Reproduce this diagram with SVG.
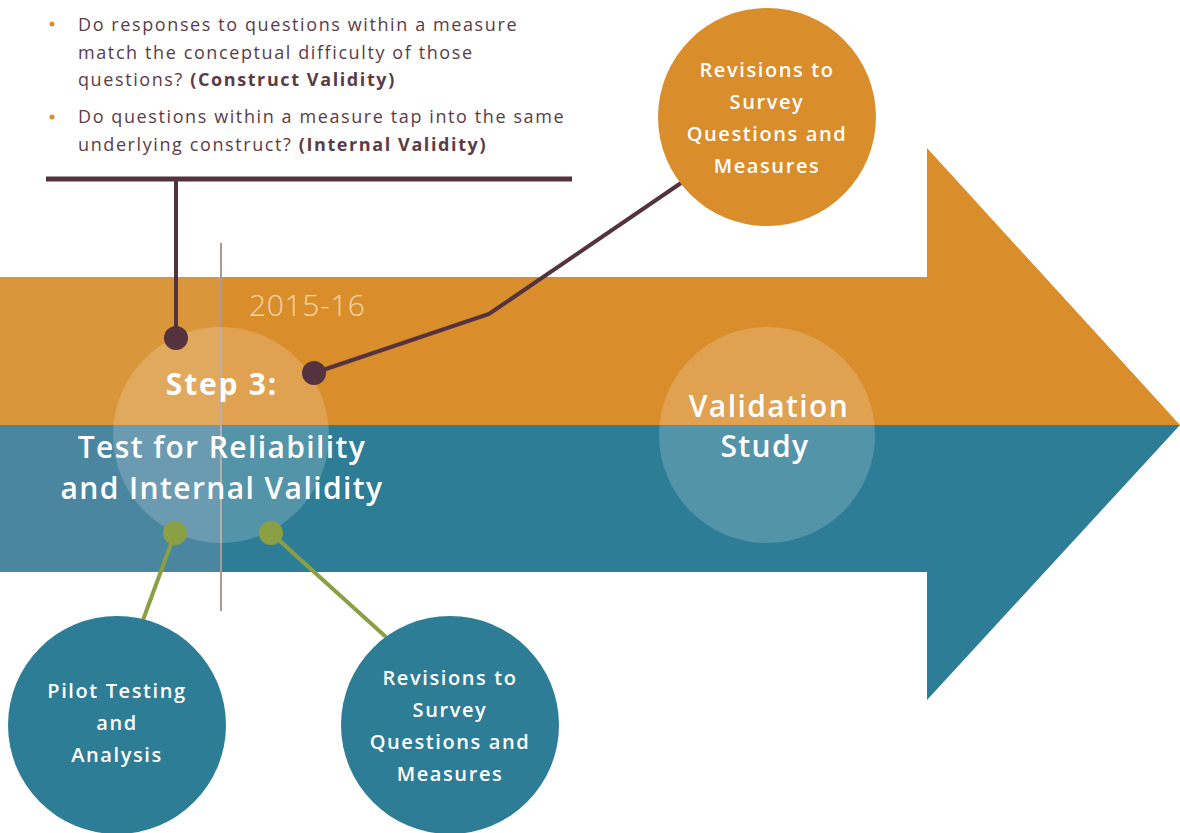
<svg xmlns="http://www.w3.org/2000/svg" width="1180" height="833" viewBox="0 0 1180 833">
<style>
.t{font-family:"Open Sans","Liberation Sans",sans-serif;fill:#fff;text-anchor:middle}
.c{font-size:20px;font-weight:600;letter-spacing:1.6px}
.h{font-size:30px;font-weight:600;letter-spacing:1.4px}
.b{font-family:"Open Sans","Liberation Sans",sans-serif;font-size:18px;fill:#5a3c48;letter-spacing:1.6px}
.mar{stroke:#54333f;stroke-width:4;fill:none}
.grn{stroke:#8b9f45;stroke-width:4;fill:none}
</style>
<rect width="1180" height="833" fill="#fff"/>
<g id="arrow">
<polygon points="0,277 927,277 927,148 1180,425 0,425" fill="#d98d2b"/>
<polygon points="0,425 1180,425 927,700 927,572 0,572" fill="#2e7d96"/>
<rect x="0" y="277" width="221" height="148" fill="#da963b"/>
<rect x="0" y="425" width="221" height="147" fill="#4a86a0"/>
<line x1="221" y1="243" x2="221" y2="611" stroke="#a89b96" stroke-width="2"/>
<text x="249" y="316" style="font-family:'Open Sans','Liberation Sans',sans-serif;font-size:30px;font-weight:300;fill:#f4d8ac;letter-spacing:0.6px">2015-16</text>
</g>
<g id="step3">
<circle cx="221" cy="435" r="108" fill="#fff" fill-opacity="0.18"/>
<text class="t" x="222" y="395" style="font-size:30px;font-weight:700;letter-spacing:1.8px">Step 3:</text>
<text class="t h" x="222" y="458">Test for Reliability</text>
<text class="t h" x="222" y="499">and Internal Validity</text>
</g>
<g id="validation">
<circle cx="767" cy="435" r="108" fill="#fff" fill-opacity="0.18"/>
<text class="t h" x="769" y="417">Validation</text>
<text class="t h" x="765" y="457">Study</text>
</g>
<g id="notes">
<circle cx="52" cy="24" r="2.5" fill="#d98d2b"/>
<circle cx="52" cy="117" r="2.5" fill="#d98d2b"/>
<text class="b" x="78" y="31">Do responses to questions within a measure</text>
<text class="b" x="78" y="59">match the conceptual difficulty of those</text>
<text class="b" x="78" y="86">questions? <tspan font-weight="700">(Construct Validity)</tspan></text>
<text class="b" x="78" y="123">Do questions within a measure tap into the same</text>
<text class="b" x="78" y="151">underlying construct? <tspan font-weight="700">(Internal Validity)</tspan></text>
</g>
<g id="connectors">
<line x1="46" y1="179" x2="572" y2="179" stroke="#54333f" stroke-width="5"/>
<line class="mar" x1="176" y1="179" x2="176" y2="338"/>
<circle cx="176" cy="338" r="12" fill="#54333f"/>
<polyline class="mar" points="314,373 489,314 681,183"/>
<circle cx="314" cy="373" r="12" fill="#54333f"/>
<line class="grn" x1="175" y1="533" x2="143" y2="620"/>
<circle cx="175" cy="533" r="12" fill="#8b9f45"/>
<line class="grn" x1="271" y1="533" x2="386" y2="637"/>
<circle cx="271" cy="533" r="12" fill="#8b9f45"/>
</g>
<g id="revisions-top">
<circle cx="767" cy="117" r="109" fill="#d98d2b"/>
<text class="t c" x="767" y="77">Revisions to</text>
<text class="t c" x="767" y="109">Survey</text>
<text class="t c" x="767" y="141">Questions and</text>
<text class="t c" x="767" y="173">Measures</text>
</g>
<g id="pilot">
<circle cx="117" cy="725" r="109" fill="#2e7d96"/>
<text class="t c" x="117" y="698">Pilot Testing</text>
<text class="t c" x="117" y="730">and</text>
<text class="t c" x="117" y="762">Analysis</text>
</g>
<g id="revisions-bottom">
<circle cx="450" cy="725" r="109" fill="#2e7d96"/>
<text class="t c" x="450" y="685">Revisions to</text>
<text class="t c" x="450" y="717">Survey</text>
<text class="t c" x="450" y="749">Questions and</text>
<text class="t c" x="450" y="781">Measures</text>
</g>
</svg>
